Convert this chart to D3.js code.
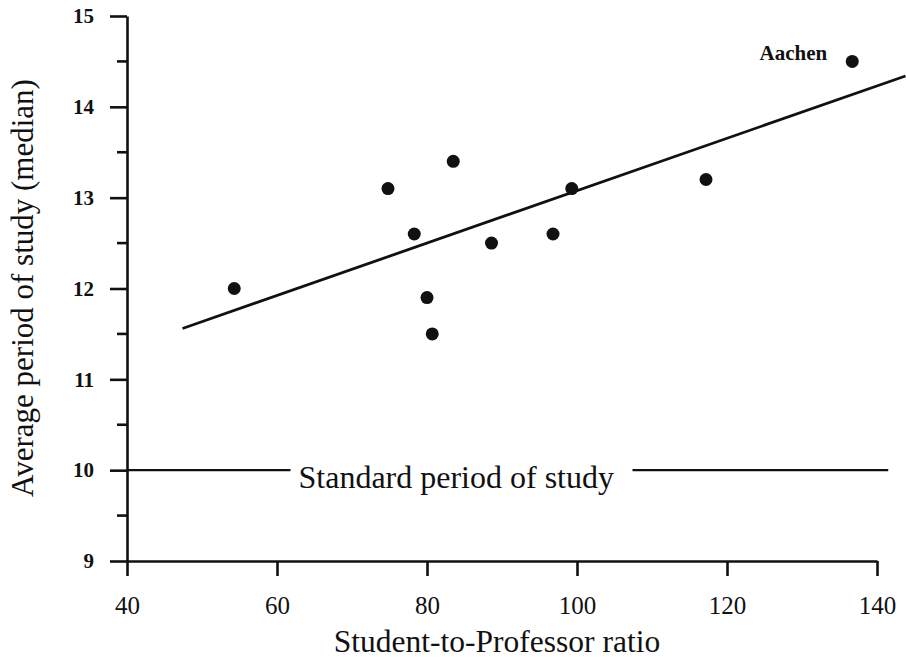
<!DOCTYPE html>
<html>
<head>
<meta charset="utf-8">
<script src="https://cdn.jsdelivr.net/npm/d3@7"></script>
<style>
  body { margin: 0; background: #fff; }
  text { font-family: "Liberation Serif", "Times New Roman", serif; fill: #111; }
</style>
</head>
<body>
<div id="chart"></div>
<script>
// student-to-professor ratio vs. median study period
var ratio  = [54.3, 74.8, 78.3, 80.0, 80.7, 83.5, 88.6, 96.8, 99.3, 117.2, 136.7];
var period = [12.0, 13.1, 12.6, 11.9, 11.5, 13.4, 12.5, 12.6, 13.1, 13.2, 14.5];
var cities = ["", "", "", "", "", "", "", "", "", "", "Aachen"];

// fitted trend line
var fitX = [47.4, 143.8];
var fitY = [11.56, 14.34];

// standard period line with a gap for its label
var standard = 10;
var standardLeft = [40, 61.8];
var standardRight = [107.4, 141.5];
var standardLabel = "Standard period of study";

var xTicks = [40, 60, 80, 100, 120, 140];
var yTicks = [9, 10, 11, 12, 13, 14, 15];
var yMinor = [9.5, 10.5, 11.5, 12.5, 13.5, 14.5];

var width = 906, height = 661;
var ink = "#111";
var serif = "'Liberation Serif', 'Times New Roman', serif";

var svg = d3.select("#chart").append("svg")
    .attr("width", width)
    .attr("height", height);

svg.append("rect").attr("width", width).attr("height", height).attr("fill", "#fff");

var x = d3.scaleLinear().domain([40, 140]).range([127, 877]);
var y = d3.scaleLinear().domain([9, 15]).range([561, 16]);

// x axis
var xAxis = svg.append("g")
    .attr("transform", "translate(0," + y(9) + ")")
    .call(d3.axisBottom(x).tickValues(xTicks).tickFormat(d3.format("d"))
        .tickSize(15).tickPadding(20).tickSizeOuter(0));
xAxis.attr("font-family", serif);
xAxis.selectAll("text")
    .style("font-family", serif)
    .style("font-size", "25px")
    .attr("fill", ink);

// y axis
var yAxis = svg.append("g")
    .attr("transform", "translate(" + x(40) + ",0)")
    .call(d3.axisLeft(y).tickValues(yTicks).tickFormat(d3.format("d"))
        .tickSize(17).tickPadding(16).tickSizeOuter(0));
yAxis.attr("font-family", serif);
yAxis.selectAll("text")
    .style("font-family", serif)
    .style("font-size", "21px")
    .style("font-weight", "bold")
    .attr("fill", ink);

yAxis.selectAll(".minor")
    .data(yMinor)
    .enter()
    .append("line")
    .attr("x1", -10)
    .attr("x2", 0)
    .attr("y1", function (d) { return y(d); })
    .attr("y2", function (d) { return y(d); });

svg.selectAll(".domain, .tick line, g line")
    .attr("stroke", ink)
    .attr("stroke-width", 2.6);

// standard period line
[standardLeft, standardRight].forEach(function (seg) {
    svg.append("line")
        .attr("x1", x(seg[0]))
        .attr("x2", x(seg[1]))
        .attr("y1", y(standard))
        .attr("y2", y(standard))
        .attr("stroke", ink)
        .attr("stroke-width", 2.4);
});

svg.append("text")
    .attr("x", x(standardLeft[1]) + 8)
    .attr("y", y(standard) + 18)
    .style("font-size", "32px")
    .text(standardLabel);

// trend line
svg.append("line")
    .attr("x1", x(fitX[0]))
    .attr("y1", y(fitY[0]))
    .attr("x2", x(fitX[1]))
    .attr("y2", y(fitY[1]))
    .attr("stroke", ink)
    .attr("stroke-width", 2.8);

// points
svg.selectAll("circle")
    .data(ratio)
    .enter()
    .append("circle")
    .attr("cx", function (d) { return x(d); })
    .attr("cy", function (d, i) { return y(period[i]); })
    .attr("r", 6.5)
    .attr("fill", ink);

svg.selectAll(".city")
    .data(cities.filter(function (c) { return c; }))
    .enter()
    .append("text")
    .attr("x", function (c) { return x(ratio[cities.indexOf(c)]) - 25; })
    .attr("y", function (c) { return y(period[cities.indexOf(c)]) - 1; })
    .attr("text-anchor", "end")
    .style("font-size", "21px")
    .style("font-weight", "bold")
    .text(function (c) { return c; });

// axis titles
svg.append("text")
    .attr("x", 497)
    .attr("y", 652)
    .attr("text-anchor", "middle")
    .style("font-size", "31.5px")
    .text("Student-to-Professor ratio");

svg.append("text")
    .attr("transform", "translate(33,288) rotate(-90)")
    .attr("text-anchor", "middle")
    .style("font-size", "31px")
    .text("Average period of study (median)");
</script>
</body>
</html>
